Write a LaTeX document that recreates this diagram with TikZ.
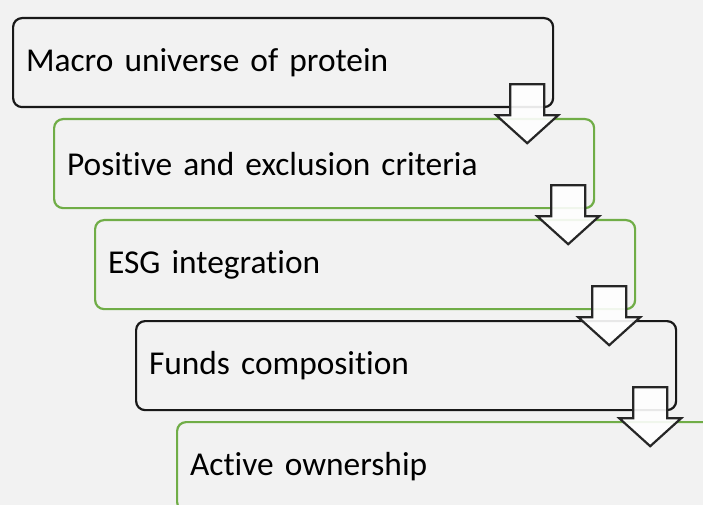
\documentclass[tikz,border=0pt]{standalone}
\usepackage{fontspec}
\setmainfont{Carlito}[Ligatures={NoCommon}]
\usetikzlibrary{positioning}
\usetikzlibrary{calc}
\definecolor{stagegreen}{RGB}{112,173,71}
\definecolor{pagegrey}{RGB}{242,242,242}
\tikzset{
  stage/.style={rounded corners=9bp, line width=2.2bp, minimum width=540bp, minimum height=89bp,
    text width=514bp, align=left, inner sep=0pt, anchor=north west, font=\fontsize{33.5}{38}\selectfont},
  blackstage/.style={stage, draw=black!90},
  greenstage/.style={stage, draw=stagegreen},
  downarrow/.style={draw=black!85, fill=white, fill opacity=0.9, line width=2.2bp, line join=miter}
}

\begin{document}
\begin{tikzpicture}[x=1bp,y=-1bp]
\fill[pagegrey] (0,0) rectangle (703,505);
\useasboundingbox (0,0) rectangle (703,505);
\clip (0,0) rectangle (703,505);
%\draw[help lines] (0,0) grid (703,505);
\node[blackstage] (b1) at (12,17) {Macro universe of protein};
\node[greenstage] (b2) at (53,118) {Positive and exclusion criteria};
\node[greenstage] (b3) at (94,219) {ESG integration};
\node[blackstage] (b4) at (135,320) {Funds composition};
\node[greenstage] (b5) at (176,421) {Active ownership};
% block arrows between the stages
\foreach \i in {1,...,4}
  \draw[downarrow] ($(b\i.south east)+(-44,-24)$) -- ++(34,0) -- ++(0,31) -- ++(14,0)
    -- ++(-31,28) -- ++(-31,-28) -- ++(14,0) -- cycle;
\end{tikzpicture}
\end{document}
